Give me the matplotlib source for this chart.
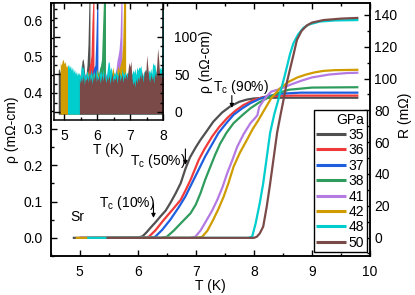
import numpy as np
import matplotlib
matplotlib.use("Agg")
import matplotlib.pyplot as plt
from matplotlib.ticker import MultipleLocator, AutoMinorLocator

plt.rcParams['font.family'] = ['Liberation Sans', 'DejaVu Sans']
plt.rcParams['mathtext.default'] = 'regular'
plt.rcParams['font.size'] = 10

# ---------------- data (main panel, rho in mOhm-cm) ----------------
pressures = ['35', '36', '37', '38', '41', '42', '48', '50']
colors = ['#505050', '#F03A3A', '#1E5FE0', '#2E9C5C', '#B47AE2', '#D09C00', '#00CDCD', '#7A4A48']

T35 = [4.88, 5.5, 6.0, 6.08, 6.15, 6.22, 6.3, 6.39, 6.48, 6.56, 6.65, 6.74, 6.82, 6.9, 7.0, 7.08, 7.2, 7.3, 7.45, 7.59, 7.75, 7.88, 8.0, 8.2, 8.5, 9.0, 9.8]
r35 = [0, 0, 0.001, 0.004, 0.015, 0.028, 0.042, 0.059, 0.075, 0.096, 0.122, 0.151, 0.19, 0.222, 0.25, 0.27, 0.297, 0.32, 0.345, 0.362, 0.375, 0.381, 0.384, 0.386, 0.386, 0.386, 0.386]
T36 = [5.0, 5.5, 6.1, 6.19, 6.3, 6.45, 6.6, 6.74, 6.82, 6.91, 7.05, 7.15, 7.28, 7.4, 7.54, 7.68, 7.82, 8.0, 8.16, 8.4, 8.7, 9.8]
r36 = [0, 0, 0, 0.003, 0.02, 0.05, 0.078, 0.105, 0.13, 0.16, 0.215, 0.245, 0.279, 0.305, 0.33, 0.35, 0.366, 0.38, 0.388, 0.391, 0.392, 0.392]
T37 = [5.0, 5.5, 6.2, 6.3, 6.42, 6.56, 6.7, 6.82, 6.9, 6.99, 7.16, 7.28, 7.39, 7.52, 7.65, 7.8, 7.94, 8.1, 8.23, 8.45, 8.8, 9.8]
r37 = [0, 0, 0, 0.003, 0.022, 0.05, 0.083, 0.114, 0.14, 0.169, 0.224, 0.258, 0.289, 0.315, 0.339, 0.357, 0.371, 0.383, 0.39, 0.397, 0.40, 0.40]
T38 = [5.2, 5.5, 6.4, 6.5, 6.62, 6.74, 6.91, 7.0, 7.08, 7.16, 7.25, 7.33, 7.42, 7.53, 7.65, 7.8, 7.94, 8.08, 8.23, 8.4, 8.6, 9.0, 9.8]
r38 = [0, 0, 0, 0.003, 0.02, 0.04, 0.068, 0.092, 0.123, 0.16, 0.196, 0.228, 0.26, 0.29, 0.316, 0.338, 0.357, 0.372, 0.385, 0.398, 0.408, 0.414, 0.415]
T41 = [5.16, 5.5, 6.9, 6.99, 7.08, 7.19, 7.28, 7.37, 7.46, 7.54, 7.63, 7.71, 7.82, 7.94, 8.02, 8.06, 8.09, 8.15, 8.22, 8.3, 8.45, 8.63, 8.8, 9.0, 9.3, 9.6, 9.8]
r41 = [0, 0, 0, 0.003, 0.02, 0.05, 0.075, 0.105, 0.14, 0.178, 0.215, 0.25, 0.285, 0.316, 0.33, 0.338, 0.36, 0.375, 0.39, 0.403, 0.41, 0.422, 0.432, 0.442, 0.45, 0.454, 0.455]
T42 = [4.93, 5.5, 7.0, 7.11, 7.2, 7.3, 7.39, 7.48, 7.56, 7.65, 7.76, 7.88, 7.98, 8.08, 8.17, 8.3, 8.45, 8.6, 8.75, 8.9, 9.05, 9.2, 9.4, 9.8]
r42 = [0, 0, 0, 0.003, 0.02, 0.05, 0.08, 0.114, 0.15, 0.196, 0.235, 0.27, 0.3, 0.325, 0.35, 0.385, 0.412, 0.43, 0.442, 0.45, 0.456, 0.46, 0.462, 0.463]
T48 = [5.13, 5.5, 7.9, 7.97, 8.03, 8.1, 8.16, 8.22, 8.28, 8.35, 8.42, 8.47, 8.52, 8.57, 8.62, 8.68, 8.76, 8.85, 8.95, 9.14, 9.4, 9.8]
r48 = [0, 0, 0, 0.003, 0.04, 0.095, 0.15, 0.22, 0.29, 0.34, 0.38, 0.41, 0.44, 0.472, 0.505, 0.536, 0.56, 0.578, 0.588, 0.596, 0.599, 0.60]
T50 = [5.46, 6.0, 8.0, 8.05, 8.1, 8.16, 8.22, 8.28, 8.34, 8.4, 8.46, 8.51, 8.57, 8.63, 8.69, 8.74, 8.82, 8.91, 9.0, 9.2, 9.5, 9.8]
r50 = [0, 0, 0, 0.003, 0.012, 0.031, 0.085, 0.15, 0.22, 0.29, 0.34, 0.38, 0.43, 0.47, 0.51, 0.545, 0.57, 0.585, 0.593, 0.60, 0.604, 0.606]

main_T = [T35, T36, T37, T38, T41, T42, T48, T50]
main_r = [r35, r36, r37, r38, r41, r42, r48, r50]

# ---------------- data (inset, noise floor envelope in nOhm-cm) ----------------
in_step = 0.03
in_start = [4.82, 5.0, 5.0, 5.2, 5.16, 4.88, 5.10, 5.46]
gray_in = [55, 58, 52, 60, 48, 45, 50, 42, 46, 40, 44, 38, 42, 36, 40, 35, 38, 40, 36, 42,
           38, 35, 40, 55, 68, 71, 62, 45, 50, 62, 90, 150, 150]
red_in = [40, 46, 38, 44, 50, 36, 42, 47, 39, 45, 41, 48, 37, 43, 46, 40, 52, 38, 44, 49,
          41, 46, 39, 55, 47, 60, 65, 75, 120, 150, 150]
blue_in = [38, 44, 41, 47, 36, 43, 49, 40, 45, 38, 46, 42, 50, 37, 44, 48, 39, 45, 41, 47,
           43, 52, 38, 46, 44, 49, 40, 58, 50, 55, 60, 62, 100, 150, 150]
green_in = [42, 37, 45, 40, 48, 36, 44, 41, 47, 39, 45, 50, 38, 43, 46, 40, 48, 37, 44, 42,
            49, 41, 46, 39, 52, 45, 48, 55, 50, 58, 62, 70, 110, 150, 150, 150]
purple_in = [30, 35, 28, 38, 32, 36, 40, 34, 38, 42, 36, 40, 33, 44, 38, 41, 36, 45, 39, 43,
             37, 46, 40, 44, 38, 42, 47, 39, 45, 41, 48, 42, 46, 40, 50, 44, 47, 52, 45, 49,
             43, 48, 55, 50, 53, 48, 52, 58, 69, 75, 83, 100, 150, 150]
gold_in = [66, 62, 68, 70, 64, 67, 60, 62,
           48, 44, 52, 46, 41, 50, 45, 49, 43, 47, 51, 44, 48, 42, 53, 46, 50, 45, 49, 43,
           56, 47, 51, 45, 48, 52, 44, 50, 46, 58, 49, 53, 47, 51, 45, 55, 48, 52, 46, 50,
           44, 54, 49, 56, 51, 60, 53, 48, 55, 50, 62, 56, 60, 65, 70, 90, 150, 150, 150]
cyan_in = [60, 64, 58, 62, 55, 60, 52, 57, 50, 54, 48, 53, 50,
           48, 63, 58, 60, 50, 46, 52, 55, 47, 53,
           49, 56, 45, 51, 54, 48, 57, 50, 46, 53,
           51, 55, 47, 58, 49, 52, 46, 55, 66, 67,
           55, 60, 50, 47, 53, 49, 56, 51, 48, 54,
           50, 46, 58, 52, 49, 55, 47, 53, 51, 57,
           48, 54, 50, 56, 52, 58, 49, 60, 55, 60,
           58, 62, 51, 48, 55, 50, 57, 53, 49, 56,
           52, 58, 50, 66, 62, 64, 55, 51, 58, 53, 60, 56, 62, 150, 150]
brown_in = [44, 38, 47, 40, 50, 36, 45, 42, 48, 39,
            52, 41, 46, 37, 49, 43, 55, 40, 47, 42,
            51, 38, 45, 49, 41, 53, 44, 39, 48, 42,
            50, 37, 46, 52, 40, 45, 43, 49, 38, 47,
            54, 41, 46, 50, 39, 48, 44, 52, 43, 55,
            66, 60, 68, 45, 36, 42, 33, 45, 38, 47,
            41, 50, 44, 55, 39, 48, 57, 52, 76, 60,
            45, 40, 51, 43, 48, 38, 52, 46, 62, 85,
            70, 48, 53, 44, 50, 46]
inset_vals = [gray_in, red_in, blue_in, green_in, purple_in, gold_in, cyan_in, brown_in]

# ---------------- figure ----------------
fig = plt.figure(figsize=(4.15, 2.95), dpi=100)
ax = fig.add_axes([0.1222, 0.1322, 0.7694, 0.8576])

lines = []
for T, r, c, p in zip(main_T, main_r, colors, pressures):
    ln, = ax.plot(T, r, color=c, lw=1.6, label=p, solid_capstyle='butt')
    lines.append(ln)

ax.set_xlim(4.5, 10)
ax.set_ylim(-0.05, 0.647)
ax.xaxis.set_major_locator(MultipleLocator(1))
ax.xaxis.set_minor_locator(MultipleLocator(0.5))
ax.yaxis.set_major_locator(MultipleLocator(0.1))
ax.yaxis.set_minor_locator(MultipleLocator(0.05))
ax.tick_params(which='both', direction='in', top=True, right=False, width=1.0)
ax.tick_params(which='major', length=4.5)
ax.tick_params(which='minor', length=2.5)
ax.tick_params(axis='x', pad=6.5)
ax.tick_params(axis='y', pad=6)
ax.set_yticks([0, 0.1, 0.2, 0.3, 0.4, 0.5, 0.6])
ax.set_yticklabels(['0.0', '0.1', '0.2', '0.3', '0.4', '0.5', '0.6'])
ax.set_xlabel('T (K)', labelpad=0)
ax.set_ylabel('ρ (mΩ-cm)', labelpad=3)
for s in ax.spines.values():
    s.set_linewidth(1.1)

ax2 = ax.twinx()
ax2.set_ylim(-11.6, 147.5)
ax2.yaxis.set_major_locator(MultipleLocator(20))
ax2.yaxis.set_minor_locator(MultipleLocator(10))
ax2.set_yticks([0, 20, 40, 60, 80, 100, 120, 140])
ax2.tick_params(which='both', direction='in', width=1.0, pad=3)
ax2.tick_params(which='major', length=4.5)
ax2.tick_params(which='minor', length=2.5)
ax2.set_ylabel('R (mΩ)')
ax2.yaxis.set_label_coords(1.088, 0.557)
for s in ax2.spines.values():
    s.set_linewidth(1.1)

# annotations
arrow = dict(arrowstyle='-|>', color='black', lw=0.8, mutation_scale=6, shrinkA=0, shrinkB=0)
ax.annotate('', xy=(7.62, 0.358), xytext=(7.62, 0.392), arrowprops=arrow)
ax.text(7.77, 0.416, 'T$_c$ (90%)', ha='center', va='center', fontsize=10)
ax.annotate('', xy=(6.82, 0.201), xytext=(6.82, 0.245), arrowprops=arrow)
ax.text(6.35, 0.212, 'T$_c$ (50%)', ha='center', va='center', fontsize=10)
ax.annotate('', xy=(6.27, 0.055), xytext=(6.27, 0.094), arrowprops=arrow)
ax.text(5.82, 0.096, 'T$_c$ (10%)', ha='center', va='center', fontsize=10)
ax.text(4.95, 0.058, 'Sr', ha='center', va='center', fontsize=10)

leg = ax2.legend(lines, pressures, title='GPa', loc='lower right',
                 bbox_to_anchor=(0.99, 0.014), frameon=True, fancybox=False,
                 edgecolor='black', framealpha=1, fontsize=10, title_fontsize=10,
                 handlelength=2.1, handletextpad=0.2, labelspacing=0.1,
                 borderpad=0.2, borderaxespad=0, alignment='right')
leg.get_frame().set_linewidth(1.0)
for h in leg.get_lines():
    h.set_linewidth(2.2)

# ---------------- inset ----------------
axi = fig.add_axes([0.1308, 0.5932, 0.2627, 0.3966])
for st, v, c in zip(in_start, inset_vals, colors):
    Ti = st + in_step * np.arange(len(v))
    axi.fill_between(Ti, -3, v, color=c, lw=0)
axi.set_xlim(4.7, 8.0)
axi.set_ylim(-10.7, 145)
axi.xaxis.set_major_locator(MultipleLocator(1))
axi.xaxis.set_minor_locator(MultipleLocator(0.5))
axi.yaxis.set_major_locator(MultipleLocator(50))
axi.yaxis.set_minor_locator(AutoMinorLocator(4))
axi.yaxis.tick_right()
axi.yaxis.set_label_position('right')
axi.tick_params(which='both', direction='in', left=True, right=True, top=True, bottom=True,
                labelleft=False, labelright=True, width=1.0)
axi.tick_params(which='major', length=4.5)
axi.tick_params(which='minor', length=2.5)
axi.tick_params(axis='x', pad=6.5)
axi.tick_params(axis='y', pad=8)
axi.set_xlabel('T (K)', labelpad=0)
axi.set_ylabel('ρ (nΩ-cm)', labelpad=1)
for s in axi.spines.values():
    s.set_linewidth(1.1)

fig.savefig('out.png', dpi=100)
